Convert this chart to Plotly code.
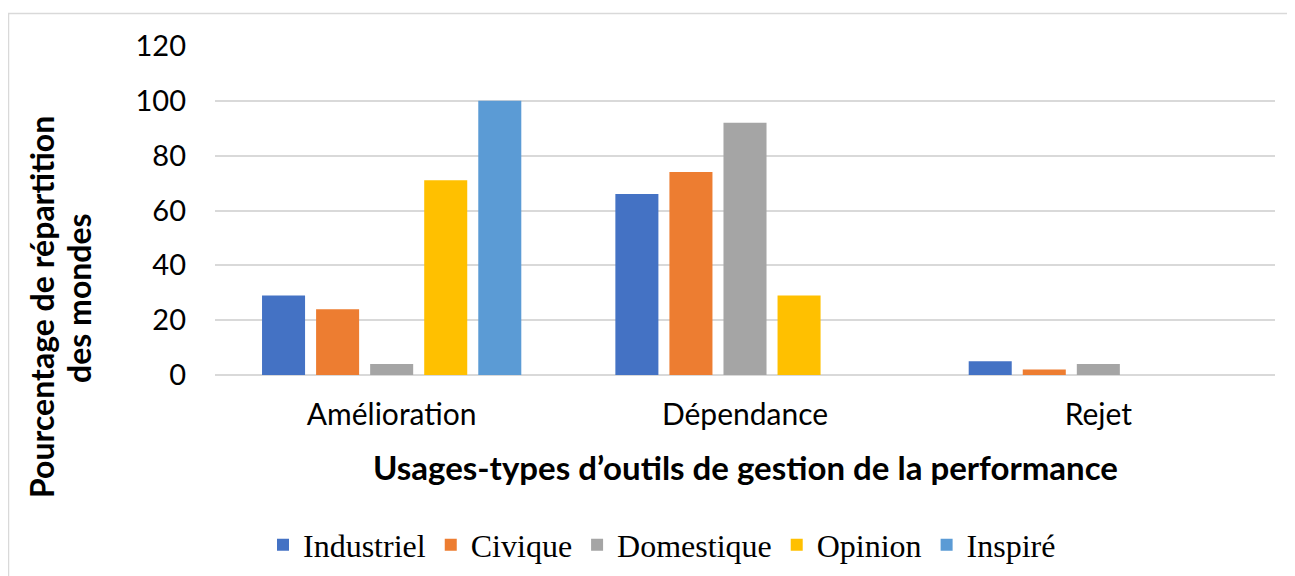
import plotly.graph_objects as go

categories = ["Amélioration", "Dépendance", "Rejet"]
series_names = ["Industriel", "Civique", "Domestique", "Opinion", "Inspiré"]
industriel = [29, 66, 5]
civique = [24, 74, 2]
domestique = [4, 92, 4]
opinion = [71, 29, 0]
inspire = [100, 0, 0]
y_ticks = [0, 20, 40, 60, 80, 100, 120]

values = [industriel, civique, domestique, opinion, inspire]
colors = ["#4472C4", "#ED7D31", "#A5A5A5", "#FFC000", "#5B9BD5"]

fig = go.Figure()
for name, vals, col in zip(series_names, values, colors):
    fig.add_trace(go.Bar(x=categories, y=vals, name=name, marker_color=col,
                         marker_line_width=0))

# page body has an 8px margin: the figure starts at (8, 8) in the window
O = 8
FW, FH = 1295 - O, 576 - O
# plot area in window coordinates: x 215..1275, y 46..375
L, R, T, B = 215, 1275, 46, 375
W, H = R - L, B - T
def px(x):
    return (x - L) / W
def py(y):
    return (B - y) / H

title_font = dict(size=32, family="Lato, Open Sans, sans-serif", weight="bold", color="#000000")

fig.update_layout(
    width=FW, height=FH,
    margin=dict(l=L - O, r=(1295 - R), t=T - O, b=(576 - B), autoexpand=False),
    paper_bgcolor="white", plot_bgcolor="white",
    barmode="group", bargap=0.235, bargroupgap=0.204,
    font=dict(family="Lato, Open Sans, sans-serif", color="#000000"),
    showlegend=True,
    legend=dict(orientation="h", x=px(662), xanchor="center", y=py(545), yanchor="middle",
                font=dict(family="Liberation Serif, Times New Roman, serif", size=32, color="#000000"),
                itemwidth=30, traceorder="normal"),
    xaxis=dict(showgrid=False, showline=False, ticks="", tickfont=dict(size=30),
               ticklabelstandoff=19),
    yaxis=dict(range=[0, 120], tickvals=y_ticks, showgrid=True, gridcolor="#D9D9D9",
               gridwidth=1.5, zeroline=True, zerolinecolor="#D9D9D9", zerolinewidth=1.5,
               showline=False, ticks="", tickfont=dict(size=29), ticklabelstandoff=28),
    annotations=[
        dict(text="Pourcentage de répartition", textangle=-90,
             xref="paper", yref="paper", x=px(41), y=py(307), xanchor="center", yanchor="middle",
             showarrow=False, font=title_font),
        dict(text="des mondes", textangle=-90,
             xref="paper", yref="paper", x=px(78), y=py(298), xanchor="center", yanchor="middle",
             showarrow=False, font=title_font),
        dict(text="Usages-types d’outils de gestion de la performance",
             xref="paper", yref="paper", x=px(745), y=py(467), xanchor="center", yanchor="middle",
             showarrow=False, font=dict(size=33, family="Lato, Open Sans, sans-serif", weight="bold", color="#000000")),
    ],
    shapes=[dict(type="rect", xref="paper", yref="paper",
                 x0=px(8.5), x1=px(1320), y0=py(620), y1=py(13.5),
                 line=dict(color="#D9D9D9", width=1.5), fillcolor="rgba(0,0,0,0)", layer="below")],
)

fig.write_html("out.html")
